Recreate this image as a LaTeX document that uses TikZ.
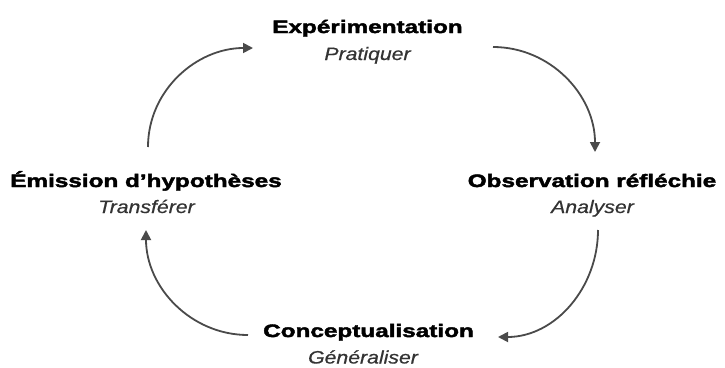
\documentclass[tikz,border=0pt]{standalone}
\usepackage{fontspec}
\setmainfont{Liberation Sans}
\newfontfamily\headfont{Liberation Sans Bold}[FakeStretch=1.35,FakeBold=2.4]
\newfontfamily\subfont{Liberation Sans Italic}[FakeStretch=1.18,FakeBold=0.6]
\usetikzlibrary{arrows.meta}
\definecolor{subgray}{HTML}{333333}
\definecolor{arrgray}{HTML}{4A4A4A}
\tikzset{
  head/.style={anchor=base, inner sep=0pt, font=\headfont\fontsize{18}{20}\selectfont, text=black},
  sub/.style={anchor=base, inner sep=0pt, font=\subfont\fontsize{18}{20}\selectfont, text=subgray},
  cyc/.style={draw=arrgray, line width=1.8pt, -{Triangle[length=10pt,width=10pt]}}
}
\begin{document}
\begin{tikzpicture}[x=1pt,y=-1pt]
\useasboundingbox (0,0) rectangle (725,367);
% labels
\node[head] (exp) at (367.5,33) {Expérimentation};
\node[sub] (expS) at (367.5,60) {Pratiquer};
\node[head] (obs) at (592,187) {Observation réfléchie};
\node[sub] (obsS) at (592.5,213) {Analyser};
\node[head] (con) at (368.5,337) {Conceptualisation};
\node[sub] (conS) at (363,363.5) {Généraliser};
\node[head] (emi) at (146,187) {Émission d’hypothèses};
\node[sub] (emiS) at (146.5,213) {Transférer};
% connector end points
\coordinate (a1s) at (148,147);
\coordinate (a1e) at (253,48);
\coordinate (a2s) at (493,47);
\coordinate (a2e) at (595,152);
\coordinate (a3s) at (598,230);
\coordinate (a3e) at (498,337);
\coordinate (a4s) at (248,335);
\coordinate (a4e) at (146,230);
% arrows
\draw[cyc] (a1s) to[out=90,in=180] (a1e);
\draw[cyc] (a2s) to[out=0,in=90] (a2e);
\draw[cyc] (a3s) to[out=-90,in=0] (a3e);
\draw[cyc] (a4s) to[out=180,in=-90] (a4e);
\end{tikzpicture}
\end{document}
